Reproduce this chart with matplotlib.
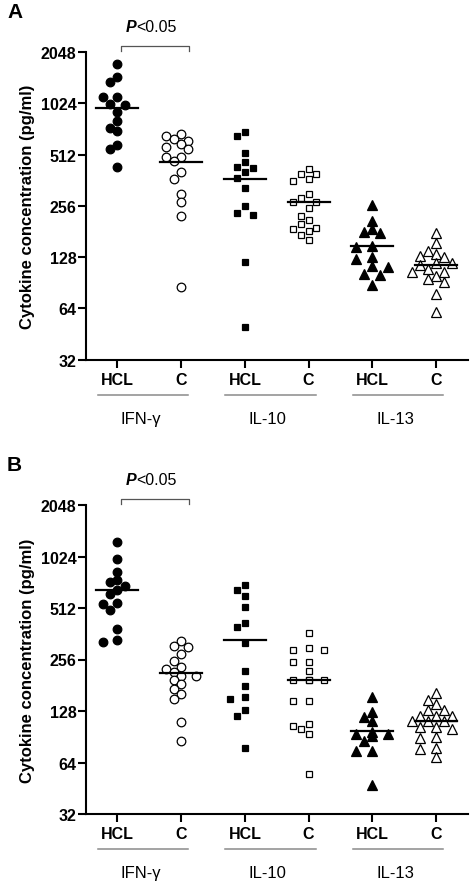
import numpy as np
import matplotlib
matplotlib.use('Agg')
import matplotlib.pyplot as plt
from matplotlib.transforms import blended_transform_factory

plt.rcParams['font.family'] = ['Liberation Sans', 'DejaVu Sans']

groups = ['IFN-γ', 'IL-10', 'IL-13']
subgroups = ['HCL', 'C']
yticks = [32, 64, 128, 256, 512, 1024, 2048]

# panel A values (pg/ml)
a_ifn_hcl = [1742, 1467, 1360, 1120, 1111, 1014, 1005, 907, 810, 734, 701, 585, 552, 431]
a_ifn_c = [676, 661, 632, 613, 591, 570, 552, 496, 494, 468, 403, 368, 301, 269, 222, 85]
a_il10_hcl = [692, 658, 523, 461, 431, 427, 403, 372, 325, 256, 233, 226, 120, 50]
a_il10_c = [420, 393, 393, 367, 359, 300, 286, 270, 270, 250, 224, 212, 200, 191, 188, 183, 172, 161]
a_il13_hcl = [259, 210, 187, 179, 177, 148, 146, 128, 125, 114, 112, 102, 100, 88]
a_il13_c = [177, 155, 139, 133, 130, 128, 118, 118, 115, 109, 105, 105, 99, 95, 91, 78, 61]

# panel B values
b_ifn_hcl = [1239, 990, 835, 750, 723, 692, 655, 618, 548, 540, 501, 386, 333, 325]
b_ifn_c = [330, 308, 301, 276, 252, 231, 226, 216, 206, 204, 193, 184, 172, 161, 150, 110, 86]
b_il10_hcl = [698, 655, 599, 517, 418, 395, 320, 220, 180, 154, 150, 130, 120, 78]
b_il10_c = [366, 298, 292, 292, 249, 246, 220, 195, 195, 195, 195, 147, 147, 107, 104, 100, 94, 55]
b_il13_hcl = [154, 126, 118, 112, 96, 94, 94, 92, 86, 75, 75, 47]
b_il13_c = [163, 149, 141, 129, 129, 120, 120, 120, 112, 112, 112, 103, 103, 100, 90, 89, 78, 77, 69]

panel_A = [a_ifn_hcl, a_ifn_c, a_il10_hcl, a_il10_c, a_il13_hcl, a_il13_c]
panel_B = [b_ifn_hcl, b_ifn_c, b_il10_hcl, b_il10_c, b_il13_hcl, b_il13_c]

# marker per column: (marker, filled, size in pt)
styles = [('o', True, 6.2), ('o', False, 6.2), ('s', True, 5.0),
          ('s', False, 5.0), ('^', True, 6.8), ('^', False, 6.8)]

W, H = 474, 887
fig = plt.figure(figsize=(W / 100, H / 100), dpi=100)


def swarm_offsets(ax, vals, xc, dpx):
    # beeswarm-ish spreading in pixel space (columns roughly one marker apart)
    pix_per_x = ax.transData.transform((1, 1))[0] - ax.transData.transform((0, 1))[0]
    ys = ax.transData.transform(np.c_[np.full(len(vals), xc), vals])[:, 1]
    step = dpx * 0.85
    placed = []
    offs = np.zeros(len(vals))
    for i in np.argsort(-np.array(vals)):
        best = 0.0
        for k in [0, -1, 1, -2, 2, -3, 3]:
            ox = k * step
            if all((ox - px) ** 2 + (ys[i] - py) ** 2 >= (dpx * 0.9) ** 2 for px, py in placed):
                best = ox
                break
        placed.append((best, ys[i]))
        offs[i] = best / pix_per_x
    return offs


def draw_panel(ax, data, letter):
    ax.set_yscale('log', base=2)
    ax.set_ylim(32, 2048)
    ax.set_xlim(0.5, 6.5)
    ax.set_yticks(yticks)
    ax.set_yticklabels([str(t) for t in yticks])
    ax.yaxis.set_minor_locator(matplotlib.ticker.NullLocator())
    ax.set_xticks(range(1, 7))
    ax.set_xticklabels(subgroups * 3)
    for s in ['top', 'right']:
        ax.spines[s].set_visible(False)
    for s in ['left', 'bottom']:
        ax.spines[s].set_linewidth(1.5)
    ax.tick_params(axis='both', width=1.5, length=5.5, labelsize=11.5, direction='out')
    ax.tick_params(axis='y', pad=1)
    ax.tick_params(axis='x', pad=3)
    for lab in ax.get_xticklabels() + ax.get_yticklabels():
        lab.set_fontweight('bold')
    ax.set_ylabel('Cytokine concentration (pg/ml)', fontsize=12, fontweight='bold', labelpad=4)

    for i, vals in enumerate(data):
        xc = i + 1
        mk, filled, ms = styles[i]
        dpx = ms * 100 / 72 * (1.3 if mk == 's' else 1.0)
        offs = swarm_offsets(ax, vals, xc, dpx)
        ax.plot(xc + offs, vals, ls='none', marker=mk, ms=ms,
                mfc='black' if filled else 'white', mec='black', mew=0.9,
                clip_on=False, zorder=3)
        m = np.mean(vals)
        ax.plot([xc - 0.33, xc + 0.33], [m, m], color='black', lw=1.6, zorder=4)

    tr = blended_transform_factory(ax.transData, ax.transAxes)
    for g, name in enumerate(groups):
        x0 = 2 * g + 1
        ax.plot([x0 - 0.31, x0 + 1.11], [-0.114, -0.114], transform=tr,
                color='#8a8a8a', lw=1.1, clip_on=False)
        ax.text(x0 + 0.36, -0.19, name, transform=tr, ha='center', va='center',
                fontsize=12)

    # significance bracket
    ax.plot([1.05, 1.05, 2.12, 2.12], [1.003, 1.02, 1.02, 1.003], transform=tr,
            color='#555555', lw=0.9, clip_on=False)
    ax.text(1.29, 1.082, 'P', transform=tr, ha='right', va='center',
            fontsize=11.5, fontweight='bold', fontstyle='italic')
    ax.text(1.29, 1.082, '<0.05', transform=tr, ha='left', va='center', fontsize=11.5)

    ax.text(-0.205, 1.13, letter, transform=ax.transAxes, ha='left', va='center',
            fontsize=15, fontweight='bold')


axA = fig.add_axes([85.5 / W, 1 - 360.7 / H, 382.5 / W, 307.7 / H])
axB = fig.add_axes([85.5 / W, 1 - 815 / H, 382.5 / W, 309 / H])
draw_panel(axA, panel_A, 'A')
draw_panel(axB, panel_B, 'B')

fig.savefig('out.png', dpi=100)
